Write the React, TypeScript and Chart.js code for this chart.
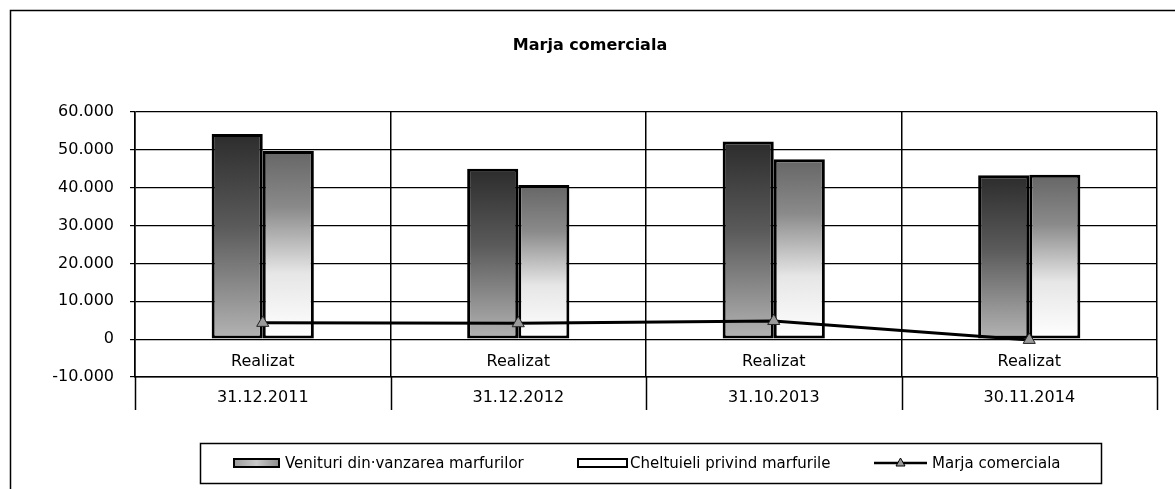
import React, { useEffect, useRef } from "react";
import { Chart, registerables } from "chart.js";

Chart.register(...registerables);

const periods = ["31.12.2011", "31.12.2012", "31.10.2013", "30.11.2014"];
const subLabels = ["Realizat", "Realizat", "Realizat", "Realizat"];
const venituri = [54200, 45000, 52200, 43300];
const cheltuieli = [49700, 40700, 47500, 43400];
const marja = [4300, 4200, 4800, -200];
const yTicks = [-10000, 0, 10000, 20000, 30000, 40000, 50000, 60000];

const seriesNames = [
  "Venituri din·vanzarea marfurilor",
  "Cheltuieli privind marfurile",
  "Marja comerciala",
];
const titleText = "Marja comerciala";

const FONT = "'DejaVu Sans', 'Liberation Sans', sans-serif";

const fmt = (v: number) => {
  const neg = v < 0;
  const s = Math.abs(Math.round(v)).toString().replace(/\B(?=(\d{3})+(?!\d))/g, ".");
  return (neg ? "-" : "") + s;
};

const barGradient = (stops: [number, string][], solid: string) => (c: any) => {
  const chart = c.chart;
  if (!chart.chartArea || c.type !== "data" || c.parsed == null) return solid;
  const ys = chart.scales.y;
  const yTop = ys.getPixelForValue(c.parsed.y);
  const yBase = ys.getPixelForValue(0);
  if (!isFinite(yTop) || !isFinite(yBase) || yTop === yBase) return solid;
  const g = chart.ctx.createLinearGradient(0, yTop, 0, yBase);
  stops.forEach(([o, col]) => g.addColorStop(o, col));
  return g;
};

const decorPlugin = {
  id: "decor",
  beforeDraw(chart: any) {
    const ctx = chart.ctx;
    ctx.save();
    ctx.strokeStyle = "#000";
    ctx.lineWidth = 1.5;
    ctx.beginPath();
    ctx.moveTo(10.5, 489);
    ctx.lineTo(10.5, 10.5);
    ctx.lineTo(1175, 10.5);
    ctx.stroke();
    ctx.restore();
  },
  afterDraw(chart: any) {
    const ctx = chart.ctx;
    const xs = chart.scales.x;
    const ys = chart.scales.y;
    const area = chart.chartArea;
    ctx.save();
    // title
    ctx.fillStyle = "#000";
    ctx.font = `bold 16px ${FONT}`;
    ctx.textAlign = "center";
    ctx.textBaseline = "middle";
    ctx.fillText(titleText, 590, 46);

    // sub labels inside plot
    ctx.font = `16px ${FONT}`;
    const yMid = (ys.getPixelForValue(0) + ys.getPixelForValue(-10000)) / 2 + 4;
    subLabels.forEach((lab, i) => {
      ctx.fillText(lab, xs.getPixelForValue(i), yMid);
    });

    // separators below the axis
    ctx.strokeStyle = "#000";
    ctx.lineWidth = 1.5;
    const half = (xs.getPixelForValue(1) - xs.getPixelForValue(0)) / 2;
    for (let i = 0; i <= periods.length; i++) {
      const x = Math.round(xs.getPixelForValue(0) - half + i * half * 2) + 0.5;
      ctx.beginPath();
      ctx.moveTo(x, area.bottom);
      ctx.lineTo(x, area.bottom + 33);
      ctx.stroke();
    }

    // legend
    const lx0 = 200, lx1 = 1101, ly0 = 443, ly1 = 483;
    const cy = (ly0 + ly1) / 2;
    ctx.lineWidth = 1.5;
    ctx.strokeRect(lx0 + 0.5, ly0 + 0.5, lx1 - lx0, ly1 - ly0);
    ctx.font = `15px ${FONT}`;
    ctx.textAlign = "left";
    // swatch 1
    const g1 = ctx.createLinearGradient(233, 0, 280, 0);
    g1.addColorStop(0, "#9a9a9a");
    g1.addColorStop(0.5, "#c8c8c8");
    g1.addColorStop(1, "#8a8a8a");
    ctx.fillStyle = g1;
    ctx.lineWidth = 2;
    ctx.fillRect(234, cy - 4, 45, 8);
    ctx.strokeRect(234, cy - 4, 45, 8);
    ctx.fillStyle = "#000";
    ctx.fillText(seriesNames[0], 285, cy + 1);
    // swatch 2
    ctx.fillStyle = "#fff";
    ctx.fillRect(578, cy - 4, 49, 8);
    ctx.strokeRect(578, cy - 4, 49, 8);
    ctx.fillStyle = "#000";
    ctx.fillText(seriesNames[1], 630, cy + 1);
    // swatch 3 line
    ctx.lineWidth = 2.5;
    ctx.beginPath();
    ctx.moveTo(874, cy);
    ctx.lineTo(927, cy);
    ctx.stroke();
    ctx.fillStyle = "#999";
    ctx.lineWidth = 1;
    ctx.beginPath();
    ctx.moveTo(900.5, cy - 5);
    ctx.lineTo(905, cy + 3);
    ctx.lineTo(896, cy + 3);
    ctx.closePath();
    ctx.fill();
    ctx.stroke();
    ctx.fillStyle = "#000";
    ctx.fillText(seriesNames[2], 932, cy + 1);
    ctx.restore();
  },
};

export default function App() {
  const ref = useRef<HTMLCanvasElement>(null);
  useEffect(() => {
    if (!ref.current) return;
    const chart = new Chart(ref.current, {
      type: "bar",
      data: {
        labels: periods,
        datasets: [
          {
            type: "line",
            label: seriesNames[2],
            data: marja,
            borderColor: "#000",
            borderWidth: 3,
            pointStyle: "triangle",
            pointRadius: 7,
            pointBackgroundColor: "#9a9a9a",
            pointBorderColor: "#222",
            pointBorderWidth: 1,
            fill: false,
            tension: 0,
            order: 1,
          } as any,
          {
            label: seriesNames[0],
            data: venituri,
            backgroundColor: barGradient(
              [
                [0, "#2c2c2c"],
                [0.45, "#5a5a5a"],
                [1, "#b4b4b4"],
              ],
              "#777"
            ),
            borderColor: "#000",
            borderWidth: 3,
            borderSkipped: false,
            categoryPercentage: 0.4,
            barPercentage: 1.0,
            order: 2,
          },
          {
            label: seriesNames[1],
            data: cheltuieli,
            backgroundColor: barGradient(
              [
                [0, "#666666"],
                [0.3, "#8a8a8a"],
                [0.65, "#e6e6e6"],
                [1, "#ffffff"],
              ],
              "#fff"
            ),
            borderColor: "#000",
            borderWidth: 3,
            borderSkipped: false,
            categoryPercentage: 0.4,
            barPercentage: 1.0,
            order: 2,
          },
        ],
      },
      options: {
        responsive: false,
        animation: false,
        events: [],
        layout: { padding: { left: 10, top: 112, right: 18, bottom: 72 } },
        plugins: {
          legend: { display: false },
          title: { display: false },
          tooltip: { enabled: false },
        },
        scales: {
          x: {
            offset: true,
            afterFit: (s: any) => {
              s.height = 40;
            },
            grid: {
              display: true,
              offset: true,
              color: "#000",
              lineWidth: 1.5,
              drawTicks: false,
            },
            border: { display: true, color: "#000", width: 1.5 },
            ticks: {
              color: "#000",
              font: { family: FONT, size: 16 },
              padding: 11,
              maxRotation: 0,
              autoSkip: false,
            },
          },
          y: {
            min: -10000,
            max: 60000,
            afterFit: (s: any) => {
              s.width = 125;
            },
            afterBuildTicks: (s: any) => {
              s.ticks = yTicks.map((v) => ({ value: v }));
            },
            grid: {
              color: "#000",
              lineWidth: 1.2,
              tickLength: 5,
            },
            border: { display: true, color: "#000", width: 1.5 },
            ticks: {
              color: "#000",
              font: { family: FONT, size: 16 },
              padding: 16,
              callback: (v: any) => fmt(Number(v)),
            },
          },
        },
      },
      plugins: [decorPlugin],
    });
    return () => chart.destroy();
  }, []);
  return (
    <div style={{ position: "absolute", left: 0, top: 0, width: 1175, height: 489, background: "#fff" }}>
      <canvas ref={ref} width={1175} height={489} />
    </div>
  );
}
